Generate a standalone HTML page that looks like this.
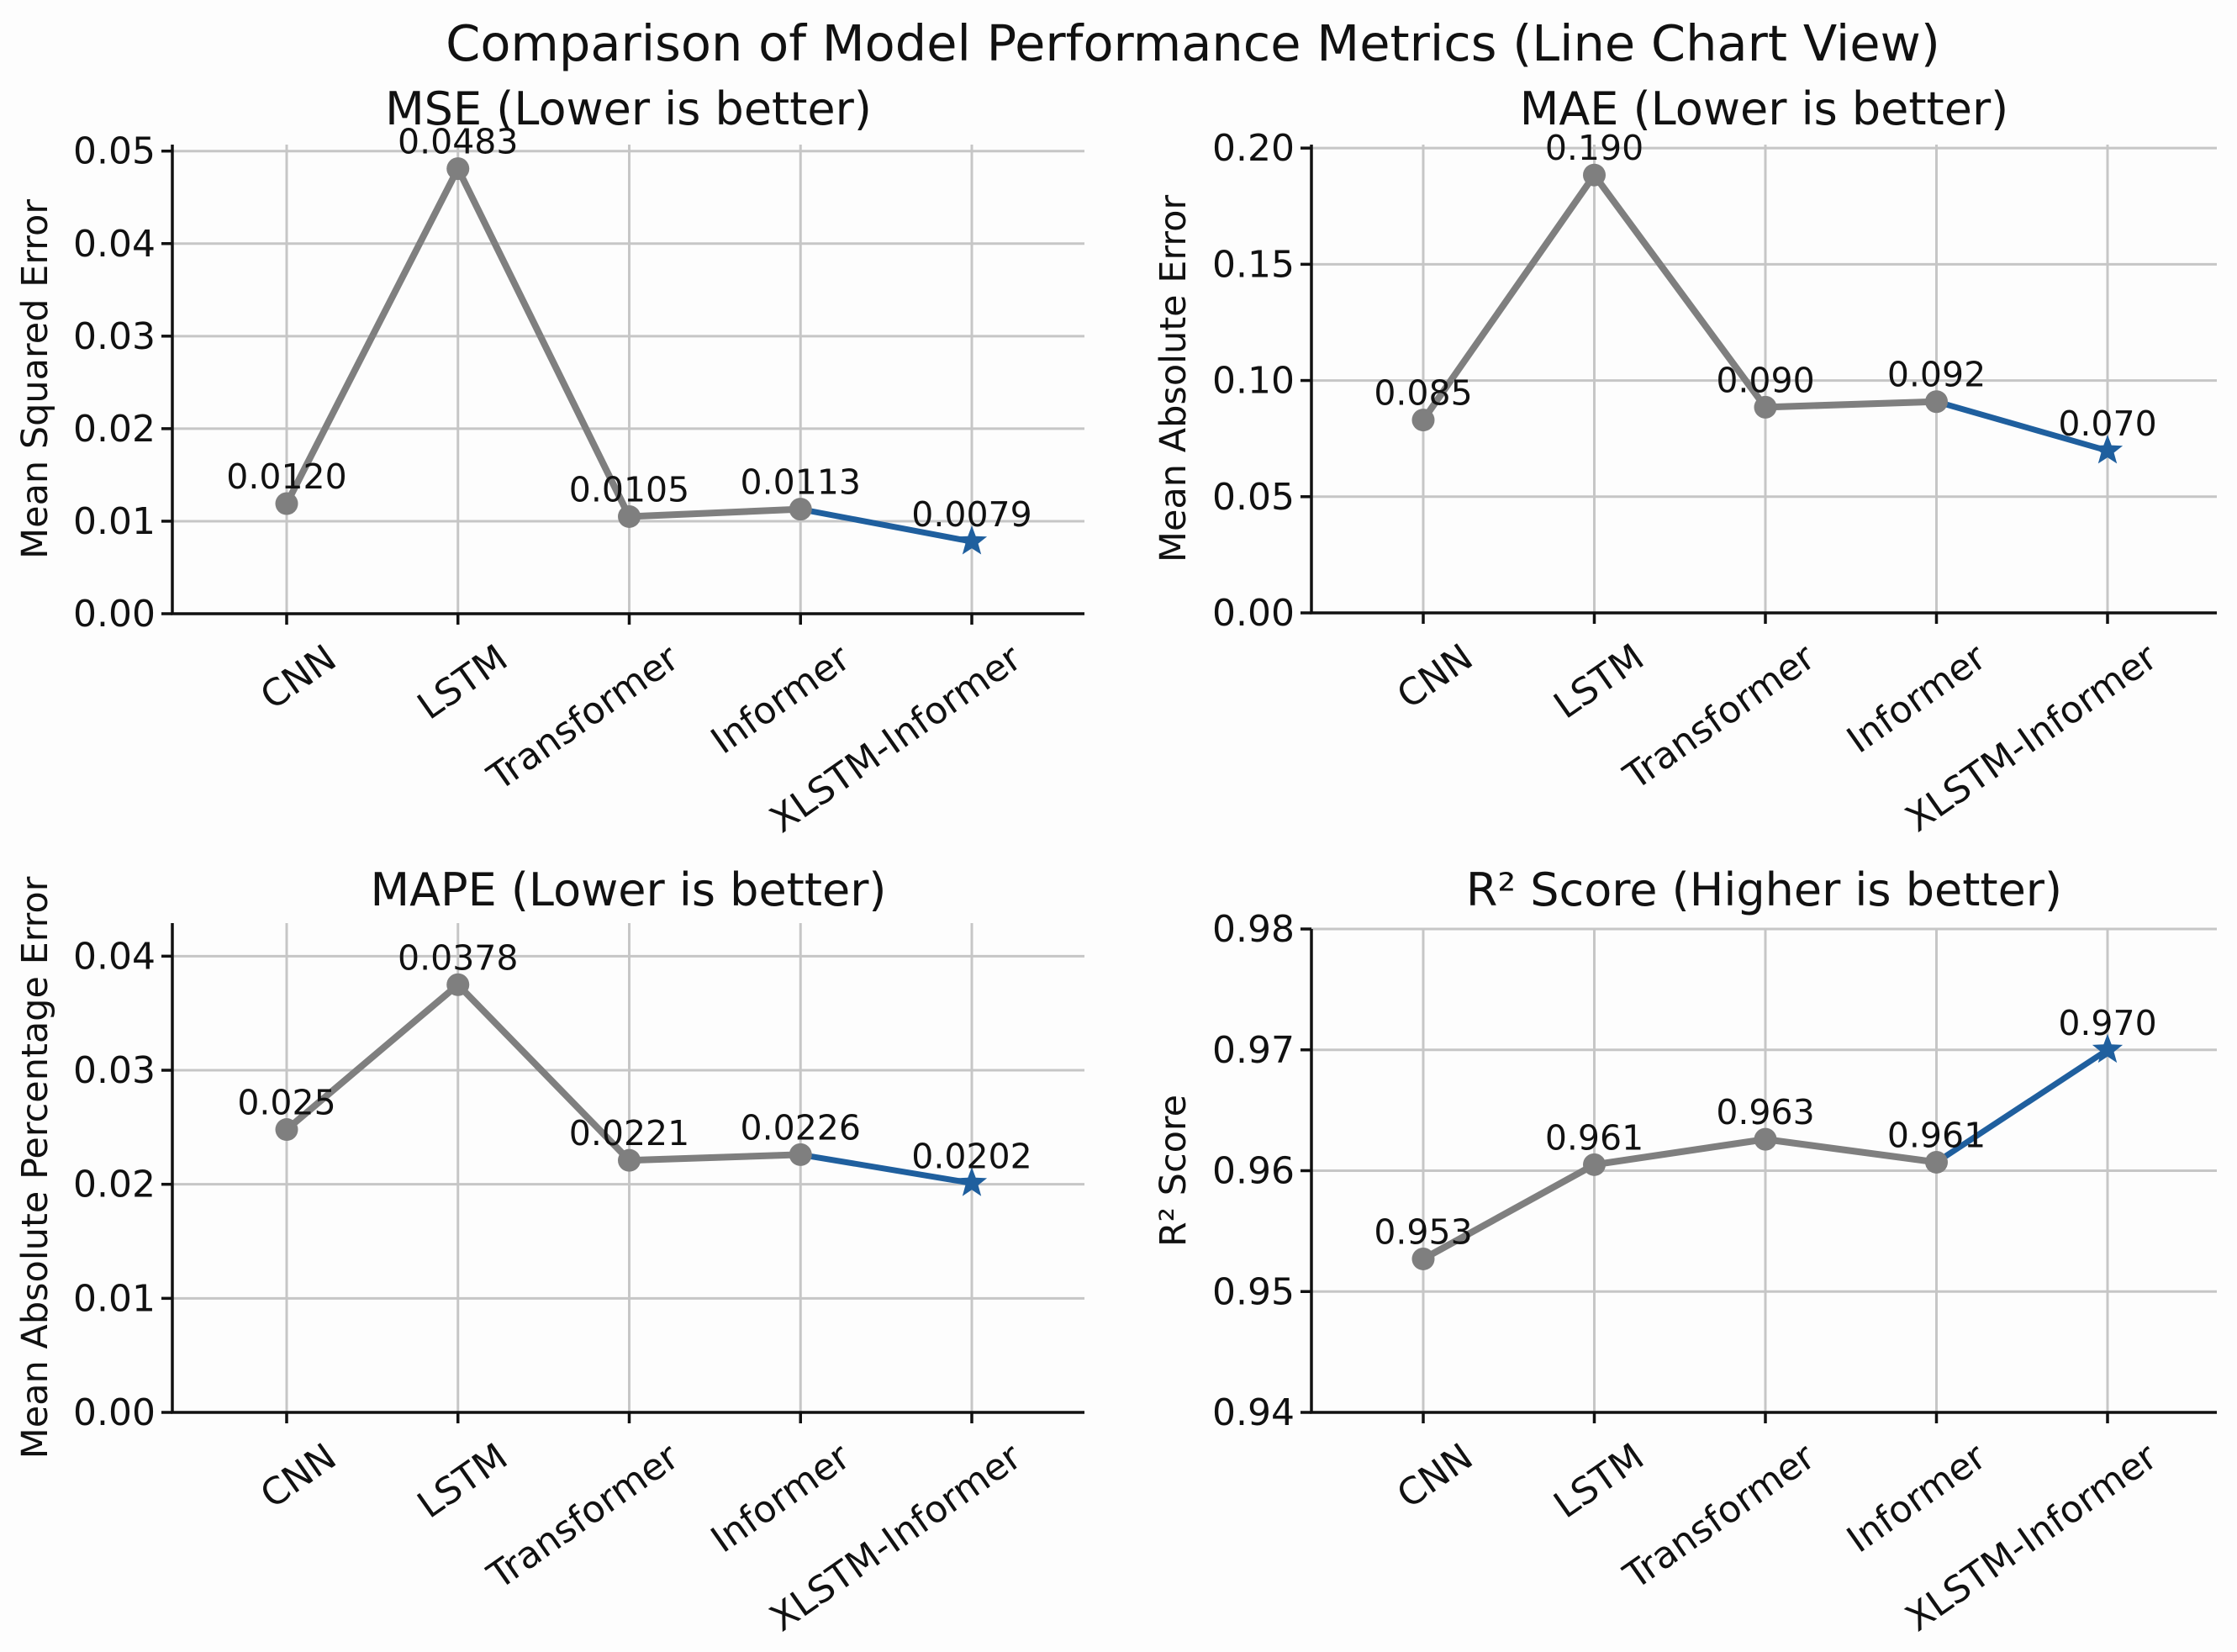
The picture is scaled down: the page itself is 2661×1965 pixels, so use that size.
<!DOCTYPE html>
<html><head><meta charset="utf-8">
<style>
html,body{margin:0;padding:0;background:#fdfdfd;}
svg{display:block;font-family:"DejaVu Sans","Liberation Sans",sans-serif;}
</style></head>
<body>
<svg id="fig" width="2661" height="1965" viewBox="0 0 2661 1965" xmlns="http://www.w3.org/2000/svg">
<rect width="2661" height="1965" fill="#fdfdfd"/>
<text x="1419" y="72" font-size="59" text-anchor="middle" fill="#111">Comparison of Model Performance Metrics (Line Chart View)</text>
</svg>
<script>
const categories = ["CNN","LSTM","Transformer","Informer","XLSTM-Informer"];
const mseValues = [0.0119, 0.0481, 0.0105, 0.0113, 0.0078];
const mseLabels = ["0.0120","0.0483","0.0105","0.0113","0.0079"];
const mseTicks = [0.00,0.01,0.02,0.03,0.04,0.05];
const mseTickLabels = ["0.00","0.01","0.02","0.03","0.04","0.05"];
const maeValues = [0.083, 0.1884, 0.0885, 0.0909, 0.0698];
const maeLabels = ["0.085","0.190","0.090","0.092","0.070"];
const maeTicks = [0.00,0.05,0.10,0.15,0.20];
const maeTickLabels = ["0.00","0.05","0.10","0.15","0.20"];
const mapeValues = [0.0248, 0.0375, 0.0221, 0.0226, 0.0201];
const mapeLabels = ["0.025","0.0378","0.0221","0.0226","0.0202"];
const mapeTicks = [0.00,0.01,0.02,0.03,0.04];
const mapeTickLabels = ["0.00","0.01","0.02","0.03","0.04"];
const r2Values = [0.9527, 0.9605, 0.9626, 0.9607, 0.9700];
const r2Labels = ["0.953","0.961","0.963","0.961","0.970"];
const r2Ticks = [0.94,0.95,0.96,0.97,0.98];
const r2TickLabels = ["0.94","0.95","0.96","0.97","0.98"];

const NS = "http://www.w3.org/2000/svg";
const svg = document.getElementById("fig");
function mk(tag, attrs, parent){ const e=document.createElementNS(NS,tag); for(const k in attrs) e.setAttribute(k,attrs[k]); (parent||svg).appendChild(e); return e; }

const panels = [
 {key:"mse", title:"MSE (Lower is better)", ylabel:"Mean Squared Error", vals:mseValues, labs:mseLabels, ticks:mseTicks, tl:mseTickLabels, ymin:0, ymax:0.0507, x0:205, x1:1290, yb:730, yt:172, ylx:42, ty:148},
 {key:"mae", title:"MAE (Lower is better)", ylabel:"Mean Absolute Error", vals:maeValues, labs:maeLabels, ticks:maeTicks, tl:maeTickLabels, ymin:0, ymax:0.2015, x0:1560, x1:2637, yb:729, yt:172, ylx:1396, ty:148},
 {key:"mape", title:"MAPE (Lower is better)", ylabel:"Mean Absolute Percentage Error", vals:mapeValues, labs:mapeLabels, ticks:mapeTicks, tl:mapeTickLabels, ymin:0, ymax:0.0429, x0:205, x1:1290, yb:1680, yt:1098, ylx:42, ty:1077},
 {key:"r2", title:"R² Score (Higher is better)", ylabel:"R² Score", vals:r2Values, labs:r2Labels, ticks:r2Ticks, tl:r2TickLabels, ymin:0.94, ymax:0.98, x0:1560, x1:2637, yb:1680, yt:1105, ylx:1396, ty:1077}
];
const catX = {left:[341,545,748,952,1156], right:[1693,1896,2100,2303,2507]};

panels.forEach(p=>{
  const g = mk("g",{});
  
  
  const n = categories.length;
  const first = (p.x0<1000)?catX.left[0]:catX.right[0];
  const step = (p.x0<1000)?(catX.left[4]-catX.left[0])/(n-1):(catX.right[4]-catX.right[0])/(n-1);
  const xs = i => first + i*step;
  const ys = v => p.yb - (v-p.ymin)/(p.ymax-p.ymin)*(p.yb-p.yt);
  p.ticks.forEach((t,i)=>{
    const y=ys(t);
    const gl=mk("line",{x1:p.x0,x2:p.x1,y1:y,y2:y,stroke:"#c6c6c6","stroke-width":3},g);
    
    
    const tk=mk("line",{x1:p.x0-13,x2:p.x0,y1:y,y2:y,stroke:"#111","stroke-width":3.5},g);
    
    
    const tx=mk("text",{x:p.x0-20,y:y+15,"font-size":44,"text-anchor":"end",fill:"#111"},g);
    tx.textContent=p.tl[i];
    
    
  });
  categories.forEach((c,i)=>{
    const x=xs(i);
    const gl=mk("line",{x1:x,x2:x,y1:p.yt,y2:p.yb,stroke:"#c6c6c6","stroke-width":3},g);
    
    
    const tk=mk("line",{x1:x,x2:x,y1:p.yb,y2:p.yb+13,stroke:"#111","stroke-width":3.5},g);
    
    
    const ax=x+62, ay=p.yb+60;
    const tx=mk("text",{x:ax,y:ay,"font-size":44,"text-anchor":"end",fill:"#111",transform:`rotate(-35 ${ax} ${ay})`},g);
    tx.textContent=c;
    
    
  });
  const sl=mk("line",{x1:p.x0,x2:p.x0,y1:p.yt,y2:p.yb+1.5,stroke:"#111","stroke-width":3.5},g);
  
  
  const sb=mk("line",{x1:p.x0-1.5,x2:p.x1,y1:p.yb,y2:p.yb,stroke:"#111","stroke-width":3.5},g);
  
  
  const tt=mk("text",{x:(p.x0+p.x1)/2,y:p.ty,"font-size":54,"text-anchor":"middle",fill:"#111"},g);
  tt.textContent=p.title;
  
  
  const cy=(p.yt+p.yb)/2;
  const yl=mk("text",{x:p.ylx,y:cy,"font-size":43,"text-anchor":"middle",fill:"#111",transform:`rotate(-90 ${p.ylx} ${cy})`,"dominant-baseline":"central"},g);
  yl.textContent=p.ylabel;
  
  
  let pts=[];
  for(let i=0;i<n-1;i++) pts.push(xs(i)+","+ys(p.vals[i]));
  const ln=mk("polyline",{points:pts.join(" "),fill:"none",stroke:"#7f7f7f","stroke-width":8,"stroke-linejoin":"round"},g);
  
  
  const bl=mk("line",{x1:xs(n-2),y1:ys(p.vals[n-2]),x2:xs(n-1),y2:ys(p.vals[n-1]),stroke:"#1f5f9e","stroke-width":7},g);
  
  
  for(let i=0;i<n-1;i++){
    const c=mk("circle",{cx:xs(i),cy:ys(p.vals[i]),r:13.5,fill:"#7f7f7f"},g);
    
    
  }
  const sx=xs(n-1), sy=ys(p.vals[n-1]); let sp=[];
  for(let k=0;k<10;k++){const r=k%2?8:19; const a=-Math.PI/2+k*Math.PI/5; sp.push((sx+r*Math.cos(a)).toFixed(1)+","+(sy+r*Math.sin(a)).toFixed(1));}
  const st=mk("polygon",{points:sp.join(" "),fill:"#1f5f9e"},g);
  
  
  for(let i=0;i<n;i++){
    const t=mk("text",{x:xs(i),y:ys(p.vals[i])-18,"font-size":41,"text-anchor":"middle",fill:"#111"},g);
    t.textContent=p.labs[i];
    
    
  }
});
</script>
</body></html>
